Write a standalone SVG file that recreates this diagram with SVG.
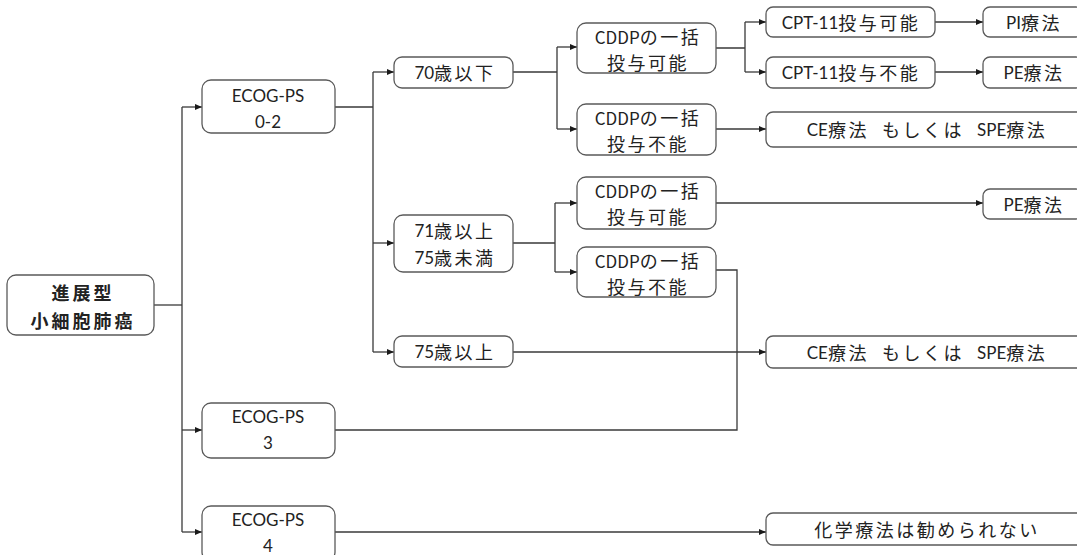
<svg xmlns="http://www.w3.org/2000/svg" width="1077" height="555" viewBox="0 0 1077 555">
<style>
.box{fill:#fff;stroke:#5a5a5a;stroke-width:1.3}
.t{font-family:Lato,"Noto Sans CJK JP",sans-serif;font-size:17px;fill:#222;text-anchor:middle;dominant-baseline:central}
.j{font-family:"Noto Sans CJK JP",sans-serif;font-size:18px;letter-spacing:2.5px}
.b{font-family:"Noto Sans CJK JP",sans-serif;font-size:18px;font-weight:bold;letter-spacing:3px}
.c{fill:none;stroke:#3a3a3a;stroke-width:1.3}
</style>
<defs>
<marker id="ah" markerWidth="8" markerHeight="8" refX="7" refY="4" orient="auto" markerUnits="userSpaceOnUse">
<path d="M0,1 L7,4 L0,7 Z" fill="#1a1a1a"/>
</marker>
</defs>
<g id="connectors">
<path class="c" d="M154,305 H182"/>
<path class="c" d="M182,107 V532"/>
<path class="c" d="M182,107 H202" marker-end="url(#ah)"/>
<path class="c" d="M182,430 H202" marker-end="url(#ah)"/>
<path class="c" d="M182,532 H202" marker-end="url(#ah)"/>
<path class="c" d="M335,107 H373 M373,72 V352"/>
<path class="c" d="M373,72 H394" marker-end="url(#ah)"/>
<path class="c" d="M373,243 H394" marker-end="url(#ah)"/>
<path class="c" d="M373,352 H394" marker-end="url(#ah)"/>
<path class="c" d="M513,72 H557 M557,47 V129"/>
<path class="c" d="M557,47 H577" marker-end="url(#ah)"/>
<path class="c" d="M557,129 H577" marker-end="url(#ah)"/>
<path class="c" d="M716,48 H745 M745,22 V72"/>
<path class="c" d="M745,22 H766" marker-end="url(#ah)"/>
<path class="c" d="M745,72 H766" marker-end="url(#ah)"/>
<path class="c" d="M935,22 H983" marker-end="url(#ah)"/>
<path class="c" d="M935,72 H983" marker-end="url(#ah)"/>
<path class="c" d="M716,129 H766" marker-end="url(#ah)"/>
<path class="c" d="M513,243 H555 M555,203 V272"/>
<path class="c" d="M555,203 H577" marker-end="url(#ah)"/>
<path class="c" d="M555,272 H577" marker-end="url(#ah)"/>
<path class="c" d="M716,203 H983" marker-end="url(#ah)"/>
<path class="c" d="M716,270 H737 V430 H335"/>
<path class="c" d="M513,352 H766" marker-end="url(#ah)"/>
<path class="c" d="M335,532 H766" marker-end="url(#ah)"/>
</g>
<g id="root"><rect class="box" x="7" y="275" width="147" height="60" rx="9"/>
<text class="t b" x="83" y="292">進展型</text><text class="t b" x="83" y="320">小細胞肺癌</text></g>
<g id="ecog02"><rect class="box" x="202" y="80" width="133" height="53" rx="9"/>
<text class="t" x="268" y="95">ECOG-PS</text><text class="t" x="268" y="121">0-2</text></g>
<g id="ecog3"><rect class="box" x="202" y="403" width="133" height="55" rx="9"/>
<text class="t" x="268" y="416">ECOG-PS</text><text class="t" x="268" y="442">3</text></g>
<g id="ecog4"><rect class="box" x="202" y="506" width="133" height="55" rx="9"/>
<text class="t" x="268" y="519">ECOG-PS</text><text class="t" x="268" y="545">4</text></g>
<g id="age70"><rect class="box" x="394" y="57" width="119" height="31" rx="8"/>
<text class="t" x="455" y="72">70<tspan class="j">歳以下</tspan></text></g>
<g id="age71"><rect class="box" x="394" y="215" width="119" height="57" rx="9"/>
<text class="t" x="455" y="230">71<tspan class="j">歳以上</tspan></text><text class="t" x="455" y="257">75<tspan class="j">歳未満</tspan></text></g>
<g id="age75"><rect class="box" x="394" y="336" width="119" height="31" rx="8"/>
<text class="t" x="455" y="351">75<tspan class="j">歳以上</tspan></text></g>
<g id="cddpOk1"><rect class="box" x="577" y="23" width="139" height="50" rx="9"/>
<text class="t" x="648" y="36"><tspan font-family="Noto Sans CJK JP">CDDP</tspan><tspan class="j">の一括</tspan></text><text class="t j" x="648" y="62">投与可能</text></g>
<g id="cddpNg1"><rect class="box" x="577" y="104" width="139" height="51" rx="9"/>
<text class="t" x="648" y="117"><tspan font-family="Noto Sans CJK JP">CDDP</tspan><tspan class="j">の一括</tspan></text><text class="t j" x="648" y="143">投与不能</text></g>
<g id="cddpOk2"><rect class="box" x="577" y="177" width="139" height="52" rx="9"/>
<text class="t" x="648" y="190"><tspan font-family="Noto Sans CJK JP">CDDP</tspan><tspan class="j">の一括</tspan></text><text class="t j" x="648" y="216">投与可能</text></g>
<g id="cddpNg2"><rect class="box" x="577" y="247" width="139" height="50" rx="9"/>
<text class="t" x="648" y="260"><tspan font-family="Noto Sans CJK JP">CDDP</tspan><tspan class="j">の一括</tspan></text><text class="t j" x="648" y="286">投与不能</text></g>
<g id="cptOk"><rect class="box" x="766" y="7" width="169" height="30" rx="7"/>
<text class="t" x="851" y="22">CPT-11<tspan class="j">投与可能</tspan></text></g>
<g id="cptNg"><rect class="box" x="766" y="57" width="169" height="31" rx="7"/>
<text class="t" x="851" y="72">CPT-11<tspan class="j">投与不能</tspan></text></g>
<g id="pi"><rect class="box" x="983" y="7" width="100" height="30" rx="7"/>
<text class="t" x="1034" y="22">PI<tspan class="j">療法</tspan></text></g>
<g id="pe1"><rect class="box" x="983" y="57" width="100" height="31" rx="7"/>
<text class="t" x="1034" y="72">PE<tspan class="j">療法</tspan></text></g>
<g id="pe2"><rect class="box" x="983" y="189" width="100" height="30" rx="7"/>
<text class="t" x="1034" y="204">PE<tspan class="j">療法</tspan></text></g>
<g id="ce1"><rect class="box" x="766" y="112" width="320" height="35" rx="7"/>
<text class="t" x="927" y="129" xml:space="preserve">CE<tspan class="j">療法  もしくは  </tspan>SPE<tspan class="j">療法</tspan></text></g>
<g id="ce2"><rect class="box" x="766" y="336" width="320" height="32" rx="7"/>
<text class="t" x="927" y="352" xml:space="preserve">CE<tspan class="j">療法  もしくは  </tspan>SPE<tspan class="j">療法</tspan></text></g>
<g id="chemo"><rect class="box" x="766" y="513" width="320" height="32" rx="7"/>
<text class="t j" x="927" y="529">化学療法は勧められない</text></g>
</svg>
